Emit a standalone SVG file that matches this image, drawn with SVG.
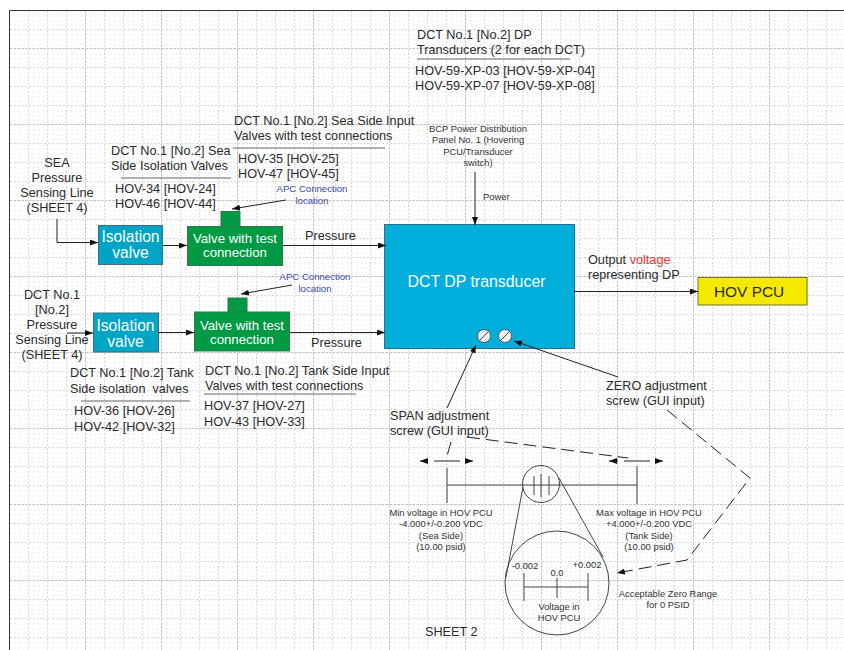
<svg xmlns="http://www.w3.org/2000/svg" width="844" height="650" viewBox="0 0 844 650">
<style>
text{font-family:"Liberation Sans",Arial,sans-serif;fill:#2b2b2b}
.t{font-size:12.7px}
.s{font-size:9.4px;fill:#333}
.b{font-size:9.6px;fill:#3c4aa8}
.w{fill:#fff}
.m{text-anchor:middle}
.c{fill:none;stroke:#222;stroke-width:1}
.u{fill:none;stroke:#666;stroke-width:1}
.d{fill:none;stroke:#222;stroke-width:1;stroke-dasharray:13 6}
.n{stroke:#3a6f80;stroke-width:1}
.g{fill:#009a44;stroke:#2c7a4a;stroke-width:1}
.ck{fill:none;stroke:#444;stroke-width:1}
</style>
<defs>
<marker id="a" markerWidth="9" markerHeight="7" refX="8" refY="3" orient="auto" markerUnits="userSpaceOnUse"><path d="M0 0L8 3L0 6Z" fill="#111"/></marker>
<pattern id="minor" x="10" y="11" width="19" height="19" patternUnits="userSpaceOnUse"><path d="M0 4.500H19M0 9.500H19M0 14H19M4.500 0V19M9.500 0V19M14 0V19" fill="none" stroke="#efefef" stroke-width="1" stroke-dasharray="1.500 3.250"/><path d="M0 18.500H19M18.500 0V19" fill="none" stroke="#d6d6d6" stroke-width="1" stroke-dasharray="2 1.800"/></pattern>
<pattern id="major" x="10" y="-27" width="76" height="76" patternUnits="userSpaceOnUse"><path d="M0 75.500H76M75.500 0V76" fill="none" stroke="#c4c4c4" stroke-width="1" stroke-dasharray="2.500 1.250"/></pattern>
</defs>
<rect width="844" height="650" fill="#fff"/>
<rect x="10" y="11" width="834" height="639" fill="url(#minor)"/>
<rect x="10" y="11" width="834" height="639" fill="url(#major)"/>
<path d="M9.500 650V10.500H844" fill="none" stroke="#333" stroke-width="1"/>

<g id="sea-iso-label"><text class="t m" x="57" y="167">SEA</text><text class="t m" x="57" y="182">Pressure</text><text class="t m" x="57" y="197">Sensing Line</text><text class="t m" x="57" y="212">(SHEET 4)</text></g>
<g id="sea-iso-valves-label"><text class="t" x="111" y="155">DCT No.1 [No.2] Sea</text><text class="t" x="111" y="170">Side Isolation Valves</text><path class="u" d="M121 178H231"/><text class="t" x="115" y="193">HOV-34 [HOV-24]</text><text class="t" x="115" y="208">HOV-46 [HOV-44]</text></g>
<g id="sea-input-label"><text class="t" x="234" y="125">DCT No.1 [No.2] Sea Side Input</text><text class="t" x="234" y="140">Valves with test connections</text><path class="u" d="M233 148H385"/><text class="t" x="238" y="163">HOV-35 [HOV-25]</text><text class="t" x="238" y="178">HOV-47 [HOV-45]</text></g>
<g id="transducers-label"><text class="t" x="417" y="39">DCT No.1 [No.2] DP</text><text class="t" x="417" y="54">Transducers (2 for each DCT)</text><path class="u" d="M417 59H570"/><text class="t" x="415" y="75">HOV-59-XP-03 [HOV-59-XP-04]</text><text class="t" x="415" y="90">HOV-59-XP-07 [HOV-59-XP-08]</text></g>
<g id="apc-1"><text class="b m" x="312" y="192">APC Connection</text><text class="b m" x="312" y="204">location</text></g>
<g id="apc-2"><text class="b m" x="315" y="280">APC Connection</text><text class="b m" x="315" y="292">location</text></g>
<g id="bcp"><text class="s m" x="478" y="132">BCP Power Distribution</text><text class="s m" x="478" y="143">Panel No. 1 (Hovering</text><text class="s m" x="478" y="155">PCU/Transducer</text><text class="s m" x="478" y="166">switch)</text><text class="s" x="483" y="200">Power</text></g>

<g id="iso-1"><rect class="n" x="98.500" y="225.500" width="64" height="39" fill="#00a5c6"/><text class="w m" x="130.500" y="242" font-size="15.600">Isolation</text><text class="w m" x="130.500" y="258" font-size="15.600">valve</text></g>
<g id="valve-1"><rect class="g" x="221" y="211.500" width="19" height="15"/><rect class="g" x="187.500" y="226.500" width="95" height="39"/><text class="w m" x="235" y="243" font-size="13.200">Valve with test</text><text class="w m" x="235" y="257" font-size="13.200">connection</text></g>
<g id="pressure-1"><text class="t" x="305" y="240">Pressure</text></g>

<g id="line-label-2"><text class="t m" x="52" y="299">DCT No.1</text><text class="t m" x="52" y="314">[No.2]</text><text class="t m" x="52" y="329">Pressure</text><text class="t m" x="52" y="344">Sensing Line</text><text class="t m" x="52" y="359">(SHEET 4)</text></g>
<g id="iso-2"><rect class="n" x="93.500" y="313" width="65" height="39" fill="#00a5c6"/><text class="w m" x="125.500" y="331" font-size="15.600">Isolation</text><text class="w m" x="125.500" y="347" font-size="15.600">valve</text></g>
<g id="valve-2"><rect class="g" x="228" y="298" width="19" height="14"/><rect class="g" x="194.500" y="312" width="95" height="39"/><text class="w m" x="242" y="330" font-size="13.200">Valve with test</text><text class="w m" x="242" y="344" font-size="13.200">connection</text></g>
<g id="pressure-2"><text class="t" x="311" y="347">Pressure</text></g>
<g id="tank-iso-label"><text class="t" x="70" y="377">DCT No.1 [No.2] Tank</text><text class="t" x="70" y="393" xml:space="preserve">Side isolation  valves</text><path class="u" d="M81 401H190"/><text class="t" x="74" y="415">HOV-36 [HOV-26]</text><text class="t" x="74" y="431">HOV-42 [HOV-32]</text></g>
<g id="tank-input-label"><text class="t" x="205" y="375">DCT No.1 [No.2] Tank Side Input</text><text class="t" x="205" y="390">Valves with test connections</text><path class="u" d="M204 394H356"/><text class="t" x="204" y="410">HOV-37 [HOV-27]</text><text class="t" x="204" y="426">HOV-43 [HOV-33]</text></g>

<g id="dct"><rect x="384.500" y="224.500" width="190" height="124" fill="#00aedb" stroke="#2d6f86"/><text class="w m" x="476.500" y="287" font-size="15.900">DCT DP transducer</text>
<circle cx="484" cy="336" r="6.500" fill="#eee" stroke="#444" stroke-width=".8"/><path d="M480 340L488 332" stroke="#444"/><circle cx="505" cy="336" r="6.500" fill="#eee" stroke="#444" stroke-width=".8"/><path d="M501 340L509 332" stroke="#444"/></g>
<g id="output-label"><text class="t" x="588" y="264">Output <tspan fill="#ee3333">voltage</tspan></text><text class="t" x="588" y="279">representing DP</text></g>
<g id="pcu"><rect x="698" y="277.500" width="109" height="27.500" fill="#f5e900" stroke="#77771e"/><text x="714" y="297" font-size="15.400" fill="#222">HOV PCU</text></g>

<g id="span-label"><text class="t" x="390" y="420">SPAN adjustment</text><text class="t" x="390" y="435">screw (GUI input)</text></g>
<g id="zero-label"><text class="t" x="606" y="390">ZERO adjustment</text><text class="t" x="606" y="405">screw (GUI input)</text></g>

<g id="scale">
<path class="ck" d="M447 485H637M447 468V503M637 466V504M534 476V495M541 474V497M549 476V495"/>
<circle class="ck" cx="541" cy="484" r="18.500"/>
<path class="ck" d="M523 487L506 577M559 478L603 557"/>
<circle class="ck" cx="557" cy="583" r="52"/>
<path class="ck" d="M524 587H588M524 573V601M557 578V598M588 573V601"/>
</g>
<g id="min-label"><text class="s m" x="441" y="516">Min voltage in HOV PCU</text><text class="s m" x="441" y="527">-4.000+/-0.200 VDC</text><text class="s m" x="441" y="539">(Sea Side)</text><text class="s m" x="441" y="550">(10.00 psid)</text></g>
<g id="max-label"><text class="s m" x="649" y="516">Max voltage in HOV PCU</text><text class="s m" x="649" y="527">+4.000+/-0.200 VDC</text><text class="s m" x="649" y="539">(Tank Side)</text><text class="s m" x="649" y="550">(10.00 psid)</text></g>
<g id="zoom-labels"><text class="s m" x="525" y="569">-0.002</text><text class="s m" x="557" y="576">0.0</text><text class="s m" x="587" y="568">+0.002</text><text class="s m" x="559" y="610">Voltage in</text><text class="s m" x="559" y="621">HOV PCU</text></g>
<g id="acceptable"><text class="s m" x="668" y="597">Acceptable Zero Range</text><text class="s m" x="668" y="608">for 0 PSID</text></g>
<g id="sheet"><text x="425" y="636" font-size="12.700" fill="#333">SHEET 2</text></g>

<g id="connectors">
<path class="c" d="M57 219V242.500H98" marker-end="url(#a)"/>
<path class="c" d="M163 245.500H187" marker-end="url(#a)"/>
<path class="c" d="M283 245.500H386" marker-end="url(#a)"/>
<path class="c" d="M286 200L232 209" marker-end="url(#a)"/>
<path class="c" d="M67 333H93" marker-end="url(#a)"/>
<path class="c" d="M158 332.500H194" marker-end="url(#a)"/>
<path class="c" d="M290 332.500H385" marker-end="url(#a)"/>
<path class="c" d="M292 285L241 294" marker-end="url(#a)"/>
<path class="c" d="M475 172V225" marker-end="url(#a)"/>
<path class="c" d="M574 291.500H698" marker-end="url(#a)"/>
<path class="c" d="M447 408L476 345" marker-end="url(#a)"/>
<path class="c" d="M618 377L514 341" marker-end="url(#a)"/>
<path class="d" d="M667 410L750 478L687 560L617 573" marker-end="url(#a)"/>
<path class="d" d="M467 437L628 458"/>
<path class="d" d="M451 442L447 456"/>
<path class="d" d="M447 461H420" marker-end="url(#a)"/>
<path class="d" d="M447 461H473" marker-end="url(#a)"/>
<path class="d" d="M637 461H609" marker-end="url(#a)"/>
<path class="d" d="M637 461H663" marker-end="url(#a)"/>
</g>
</svg>
